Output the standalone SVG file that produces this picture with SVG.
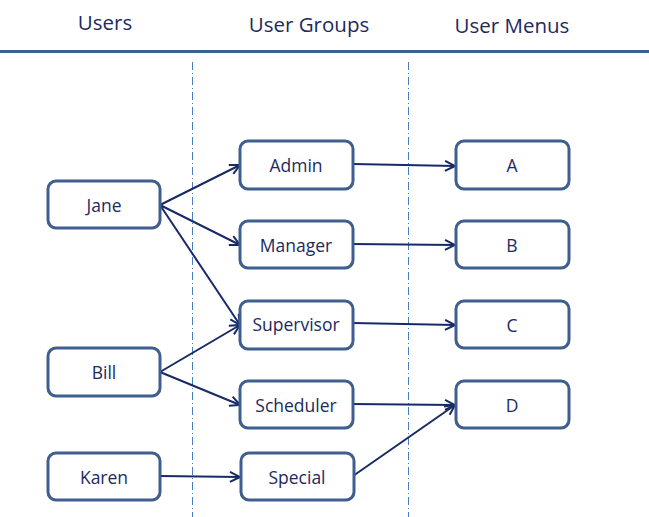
<svg xmlns="http://www.w3.org/2000/svg" width="649" height="517" viewBox="0 0 649 517">
<defs>
<marker id="ah" viewBox="0 0 12 12" refX="11" refY="6" markerWidth="12" markerHeight="12" markerUnits="userSpaceOnUse" orient="auto">
<path d="M1,1 L11,6 L1,11" fill="none" stroke="#172a66" stroke-width="2"/>
</marker>
<style>
.hd{font-family:"Open Sans","Liberation Sans",sans-serif;font-size:20.5px;fill:#1c2a5e;text-anchor:middle}
.nd rect{fill:#fff;stroke:#3d5e8e;stroke-width:3}
.nd text{font-family:"Open Sans","Liberation Sans",sans-serif;font-size:17.5px;fill:#1c2a5e;text-anchor:middle;dominant-baseline:central}
.cn path{fill:none;stroke:#172a66;stroke-width:2;marker-end:url(#ah)}
.dd{stroke:#4a7cc0;stroke-width:1;stroke-dasharray:8 3 1 3}
</style>
</defs>
<rect width="649" height="517" fill="#fff"/>
<text class="hd" x="105" y="30">Users</text>
<text class="hd" x="309" y="32">User Groups</text>
<text class="hd" x="512" y="33">User Menus</text>
<line x1="0" y1="51.5" x2="649" y2="51.5" stroke="#3c5f8f" stroke-width="3"/>
<line class="dd" x1="192.5" y1="62" x2="192.5" y2="517"/>
<line class="dd" x1="408.5" y1="62" x2="408.5" y2="517"/>
<g class="cn">
<path d="M160,205 L240,165"/>
<path d="M160,205 L240,245"/>
<path d="M160,205 L240,325"/>
<path d="M160,372 L240,325"/>
<path d="M160,372 L240,405"/>
<path d="M160,476 L240,477"/>
<path d="M353,164 L455,166"/>
<path d="M353,244 L455,245"/>
<path d="M353,323 L455,325"/>
<path d="M353,404 L455,405"/>
<path d="M353,476 L455,405"/>
</g>
<g id="jane" class="nd"><rect x="48" y="181" width="112" height="47" rx="8"/><text x="104" y="205">Jane</text></g>
<g id="bill" class="nd"><rect x="48" y="348" width="112" height="48" rx="8"/><text x="104" y="372">Bill</text></g>
<g id="karen" class="nd"><rect x="48" y="453" width="112" height="47" rx="8"/><text x="104" y="477">Karen</text></g>
<g id="admin" class="nd"><rect x="240" y="141" width="113" height="48" rx="8"/><text x="296" y="165">Admin</text></g>
<g id="manager" class="nd"><rect x="240" y="221" width="113" height="47" rx="8"/><text x="296" y="245">Manager</text></g>
<g id="supervisor" class="nd"><rect x="240" y="301" width="113" height="48" rx="8"/><text x="296" y="324">Supervisor</text></g>
<g id="scheduler" class="nd"><rect x="240" y="381" width="113" height="47" rx="8"/><text x="296" y="405">Scheduler</text></g>
<g id="special" class="nd"><rect x="241" y="453" width="113" height="47" rx="8"/><text x="297" y="477">Special</text></g>
<g id="a" class="nd"><rect x="456" y="141" width="113" height="48" rx="8"/><text x="512" y="165">A</text></g>
<g id="b" class="nd"><rect x="456" y="221" width="113" height="47" rx="8"/><text x="512" y="245">B</text></g>
<g id="c" class="nd"><rect x="456" y="301" width="113" height="47" rx="8"/><text x="512" y="325">C</text></g>
<g id="d" class="nd"><rect x="456" y="381" width="113" height="47" rx="8"/><text x="512" y="405">D</text></g>
</svg>
